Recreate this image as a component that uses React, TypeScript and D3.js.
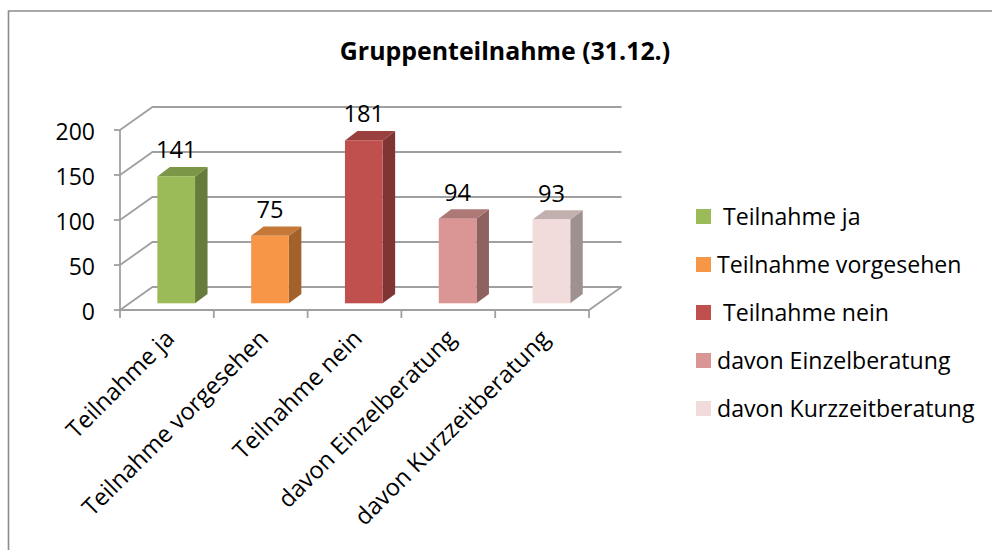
import React from "react";
import * as d3 from "d3";

const categories = ["Teilnahme ja", "Teilnahme vorgesehen", "Teilnahme nein", "davon Einzelberatung", "davon Kurzzeitberatung"];
const values = [141, 75, 181, 94, 93];
const frontColors = ["#9bbb59", "#f79646", "#c0504d", "#d99694", "#f2dcdb"];
const topColors = ["#7c9647", "#c67838", "#9a403e", "#ae7876", "#c2b0af"];
const sideColors = ["#677c3a", "#a3622c", "#7f3533", "#8f6260", "#a09191"];
const yTicks = [0, 50, 100, 150, 200];
const legendLabels = [" Teilnahme ja", "Teilnahme vorgesehen", " Teilnahme nein", "davon Einzelberatung", "davon Kurzzeitberatung"];
const title = "Gruppenteilnahme (31.12.)";

const FONT = "'Open Sans', sans-serif";
const GRID = "#a0a0a0";

export default function App() {
  const y = d3.scaleLinear().domain([0, 200]).range([310, 130]);
  const x = d3.scaleBand<string>().domain(categories).range([120, 589]);
  const wallDx = 32.5, wallDy = -23;
  const barWidth = 37.7, depthX = 12.5, depthY = -9.4;
  const baseY = -6.7, centerShift = 9.3;
  const legendY = d3.scalePoint<string>().domain(categories).range([217, 409]);
  const legendTextX = [723, 717, 723, 717, 717];
  const diag = (yv: number) => `M120 ${y(yv)}L${120 + wallDx} ${y(yv) + wallDy}L${589 + wallDx} ${y(yv) + wallDy}`;
  return (
    <svg width={992} height={550} style={{ position: "absolute", left: 0, top: 0, background: "#fff" }} fontFamily={FONT}>
      <path d="M8.5 550V11H992" fill="none" stroke="#8c8c8c" strokeWidth={1.6} />
      <text x={505} y={60} textAnchor="middle" fontSize={24.9} fontWeight={700} fill="#000">{title}</text>

      {yTicks.map((t) => (
        <path key={t} d={diag(t)} fill="none" stroke={GRID} strokeWidth={1.8} />
      ))}
      <path d={`M120 ${y(200)}V${y(0)}H589L${589 + wallDx} ${y(0) + wallDy}`} fill="none" stroke={GRID} strokeWidth={1.8} />
      {yTicks.map((t) => (
        <g key={t}>
          <line x1={114} x2={120} y1={y(t)} y2={y(t)} stroke={GRID} strokeWidth={1.8} />
          <text x={95} y={y(t) + 1.5} dy="0.36em" textAnchor="end" fontSize={23} fill="#000">{t}</text>
        </g>
      ))}
      {[...categories.map((c) => x(c) as number), 589].map((v) => (
        <line key={v} x1={v} x2={v} y1={310} y2={318} stroke={GRID} strokeWidth={1.8} />
      ))}

      {categories.map((c, i) => {
        const cx = (x(c) as number) + x.bandwidth() / 2 + centerShift;
        const x0 = cx - barWidth / 2, x1 = cx + barWidth / 2;
        const y0 = y(0) + baseY, y1 = y(values[i]) + baseY;
        return (
          <g key={c}>
            <path d={`M${x1} ${y1}L${x1 + depthX} ${y1 + depthY}V${y0 + depthY}L${x1} ${y0}Z`} fill={sideColors[i]} />
            <path d={`M${x0} ${y1}L${x0 + depthX} ${y1 + depthY}H${x1 + depthX}L${x1} ${y1}Z`} fill={topColors[i]} />
            <rect x={x0} y={y1} width={barWidth} height={y0 - y1} fill={frontColors[i]} />
            <text x={cx} y={y1 - 18} textAnchor="middle" fontSize={23.6} fill="#000">{values[i]}</text>
          </g>
        );
      })}

      {categories.map((c) => {
        const cx = (x(c) as number) + x.bandwidth() / 2 + 9;
        return (
          <text key={c} transform={`translate(${cx},340) rotate(-45)`} textAnchor="end" fontSize={23.7} fill="#000">{c}</text>
        );
      })}

      {legendLabels.map((l, i) => {
        const cy = legendY(categories[i]) as number;
        return (
          <g key={l}>
            <rect x={696} y={cy - 8} width={15} height={15} fill={frontColors[i]} />
            <text x={legendTextX[i]} y={cy} dy="0.34em" fontSize={23.1} fill="#000">{l.trim()}</text>
          </g>
        );
      })}
    </svg>
  );
}
